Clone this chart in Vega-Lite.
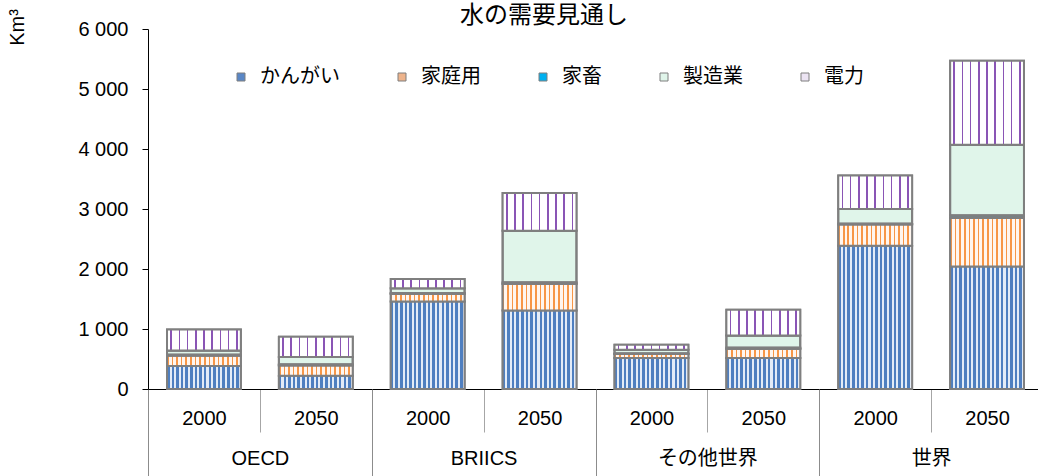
{
  "$schema": "https://vega.github.io/schema/vega-lite/v6.json",
  "autosize": {"type": "none"},
  "padding": {"left": 148, "top": 29, "right": 0, "bottom": 87},
  "width": 895,
  "height": 360,
  "background": "#ffffff",
  "title": {
    "text": "水の需要見通し",
    "anchor": "start",
    "frame": "group",
    "dx": 312,
    "dy": 38,
    "offset": 0,
    "baseline": "alphabetic",
    "font": "Noto Sans CJK JP",
    "fontSize": 24,
    "fontWeight": "normal",
    "color": "#000000"
  },
  "config": {
    "view": {"stroke": null},
    "font": "Liberation Sans, Noto Sans CJK JP",
    "axis": {
      "labelFont": "Liberation Sans, Noto Sans CJK JP",
      "titleFont": "Liberation Sans, Noto Sans CJK JP",
      "labelColor": "#000000",
      "titleColor": "#000000",
      "grid": false
    }
  },
  "datasets": {
    "water": [
      {"bar": "OECD 2000", "use": "かんがい", "k": 1, "value": 383},
      {"bar": "OECD 2000", "use": "家庭用", "k": 2, "value": 173},
      {"bar": "OECD 2000", "use": "家畜", "k": 3, "value": 15},
      {"bar": "OECD 2000", "use": "製造業", "k": 4, "value": 70},
      {"bar": "OECD 2000", "use": "電力", "k": 5, "value": 349},
      {"bar": "OECD 2050", "use": "かんがい", "k": 1, "value": 219},
      {"bar": "OECD 2050", "use": "家庭用", "k": 2, "value": 174},
      {"bar": "OECD 2050", "use": "家畜", "k": 3, "value": 15},
      {"bar": "OECD 2050", "use": "製造業", "k": 4, "value": 126},
      {"bar": "OECD 2050", "use": "電力", "k": 5, "value": 338},
      {"bar": "BRIICS 2000", "use": "かんがい", "k": 1, "value": 1460},
      {"bar": "BRIICS 2000", "use": "家庭用", "k": 2, "value": 123},
      {"bar": "BRIICS 2000", "use": "家畜", "k": 3, "value": 15},
      {"bar": "BRIICS 2000", "use": "製造業", "k": 4, "value": 80},
      {"bar": "BRIICS 2000", "use": "電力", "k": 5, "value": 155},
      {"bar": "BRIICS 2050", "use": "かんがい", "k": 1, "value": 1310},
      {"bar": "BRIICS 2050", "use": "家庭用", "k": 2, "value": 440},
      {"bar": "BRIICS 2050", "use": "家畜", "k": 3, "value": 25},
      {"bar": "BRIICS 2050", "use": "製造業", "k": 4, "value": 863},
      {"bar": "BRIICS 2050", "use": "電力", "k": 5, "value": 629},
      {"bar": "その他世界 2000", "use": "かんがい", "k": 1, "value": 516},
      {"bar": "その他世界 2000", "use": "家庭用", "k": 2, "value": 67},
      {"bar": "その他世界 2000", "use": "家畜", "k": 3, "value": 10},
      {"bar": "その他世界 2000", "use": "製造業", "k": 4, "value": 62},
      {"bar": "その他世界 2000", "use": "電力", "k": 5, "value": 83},
      {"bar": "その他世界 2050", "use": "かんがい", "k": 1, "value": 517},
      {"bar": "その他世界 2050", "use": "家庭用", "k": 2, "value": 150},
      {"bar": "その他世界 2050", "use": "家畜", "k": 3, "value": 20},
      {"bar": "その他世界 2050", "use": "製造業", "k": 4, "value": 206},
      {"bar": "その他世界 2050", "use": "電力", "k": 5, "value": 429},
      {"bar": "世界 2000", "use": "かんがい", "k": 1, "value": 2388},
      {"bar": "世界 2000", "use": "家庭用", "k": 2, "value": 352},
      {"bar": "世界 2000", "use": "家畜", "k": 3, "value": 15},
      {"bar": "世界 2000", "use": "製造業", "k": 4, "value": 245},
      {"bar": "世界 2000", "use": "電力", "k": 5, "value": 560},
      {"bar": "世界 2050", "use": "かんがい", "k": 1, "value": 2043},
      {"bar": "世界 2050", "use": "家庭用", "k": 2, "value": 807},
      {"bar": "世界 2050", "use": "家畜", "k": 3, "value": 43},
      {"bar": "世界 2050", "use": "製造業", "k": 4, "value": 1179},
      {"bar": "世界 2050", "use": "電力", "k": 5, "value": 1400}
    ],
    "regions": [
      {"region": "OECD"},
      {"region": "BRIICS"},
      {"region": "その他世界"},
      {"region": "世界"}
    ]
  },
  "layer": [
    {
      "data": {"name": "water"},
      "layer": [
        {
          "mark": {"type": "bar", "width": {"band": 0.66}, "stroke": "#7f7f7f", "strokeWidth": 2},
          "encoding": {
            "x": {
              "field": "bar",
              "type": "nominal",
              "sort": null,
              "scale": {"paddingInner": 0, "paddingOuter": 0},
              "axis": {
                "orient": "bottom",
                "title": null,
                "labelExpr": "split(datum.label, ' ')[1]",
                "labelAngle": 0,
                "labelFontSize": 20,
                "labelPadding": -24,
                "tickBand": "extent",
                "tickSize": 43,
                "tickColor": "#a6a6a6",
                "tickWidth": 1,
                "domainColor": "#000000",
                "domainWidth": 1
              }
            },
            "y": {
              "field": "value",
              "type": "quantitative",
              "stack": "zero",
              "scale": {"domain": [0, 6000], "nice": false},
              "axis": {
                "title": "Km³",
                "titleAngle": -90,
                "titleX": -131,
                "titleY": -2,
                "titleAlign": "center",
                "titleBaseline": "middle",
                "titleFontSize": 20,
                "titleFontWeight": "normal",
                "values": [0, 1000, 2000, 3000, 4000, 5000, 6000],
                "labelExpr": "replace(format(datum.value, ','), ',', ' ')",
                "labelFontSize": 20,
                "labelPadding": 14,
                "tickSize": 6,
                "tickColor": "#000000",
                "domainColor": "#000000",
                "domainWidth": 1
              }
            },
            "fill": {
              "field": "use",
              "type": "nominal",
              "sort": ["かんがい", "家庭用", "家畜", "製造業", "電力"],
              "scale": {
                "domain": ["かんがい", "家庭用", "家畜", "製造業", "電力"],
                "range": ["#5a87c6", "#eeb48c", "#00b0f0", "#e0f5ea", "#ece4f3"]
              },
              "legend": {
                "orient": "none",
                "legendX": 83,
                "legendY": 38,
                "direction": "horizontal",
                "title": null,
                "symbolType": "square",
                "symbolSize": 64,
                "labelFont": "Noto Sans CJK JP",
                "labelFontSize": 20,
                "labelColor": "#000000",
                "labelOffset": 9,
                "labelLimit": 0,
                "columnPadding": 52,
                "symbolStrokeColor": "#7f7f7f",
                "symbolStrokeWidth": 1,
                "encode": {
                  "symbols": {
                    "update": {
                      "stroke": {"value": "#7f7f7f"},
                      "strokeWidth": {"value": 1}
                    }
                  }
                }
              }
            },
            "order": {"field": "k", "type": "quantitative"}
          }
        },
        {
          "mark": {"type": "bar", "width": {"band": 0.66}, "stroke": "#7f7f7f", "strokeWidth": 2},
          "encoding": {
            "x": {"field": "bar", "type": "nominal", "sort": null},
            "y": {"field": "value", "type": "quantitative", "stack": "zero"},
            "detail": {"field": "use", "type": "nominal"},
            "order": {"field": "k", "type": "quantitative"},
            "fill": {
              "condition": [
                {
                  "test": "datum.use === 'かんがい'",
                  "value": {
                    "gradient": "linear", "x1": 0, "y1": 0, "x2": 1, "y2": 0,
                    "stops": [
                      {"offset": 0, "color": "#4f7fc0"}, {"offset": 0.0344, "color": "#4f7fc0"}, {"offset": 0.0344, "color": "#e4ecf7"}, {"offset": 0.0625, "color": "#e4ecf7"},
                      {"offset": 0.0625, "color": "#4f7fc0"}, {"offset": 0.0969, "color": "#4f7fc0"}, {"offset": 0.0969, "color": "#e4ecf7"}, {"offset": 0.125, "color": "#e4ecf7"},
                      {"offset": 0.125, "color": "#4f7fc0"}, {"offset": 0.1594, "color": "#4f7fc0"}, {"offset": 0.1594, "color": "#e4ecf7"}, {"offset": 0.1875, "color": "#e4ecf7"},
                      {"offset": 0.1875, "color": "#4f7fc0"}, {"offset": 0.2219, "color": "#4f7fc0"}, {"offset": 0.2219, "color": "#e4ecf7"}, {"offset": 0.25, "color": "#e4ecf7"},
                      {"offset": 0.25, "color": "#4f7fc0"}, {"offset": 0.2844, "color": "#4f7fc0"}, {"offset": 0.2844, "color": "#e4ecf7"}, {"offset": 0.3125, "color": "#e4ecf7"},
                      {"offset": 0.3125, "color": "#4f7fc0"}, {"offset": 0.3469, "color": "#4f7fc0"}, {"offset": 0.3469, "color": "#e4ecf7"}, {"offset": 0.375, "color": "#e4ecf7"},
                      {"offset": 0.375, "color": "#4f7fc0"}, {"offset": 0.4094, "color": "#4f7fc0"}, {"offset": 0.4094, "color": "#e4ecf7"}, {"offset": 0.4375, "color": "#e4ecf7"},
                      {"offset": 0.4375, "color": "#4f7fc0"}, {"offset": 0.4719, "color": "#4f7fc0"}, {"offset": 0.4719, "color": "#e4ecf7"}, {"offset": 0.5, "color": "#e4ecf7"},
                      {"offset": 0.5, "color": "#4f7fc0"}, {"offset": 0.5344, "color": "#4f7fc0"}, {"offset": 0.5344, "color": "#e4ecf7"}, {"offset": 0.5625, "color": "#e4ecf7"},
                      {"offset": 0.5625, "color": "#4f7fc0"}, {"offset": 0.5969, "color": "#4f7fc0"}, {"offset": 0.5969, "color": "#e4ecf7"}, {"offset": 0.625, "color": "#e4ecf7"},
                      {"offset": 0.625, "color": "#4f7fc0"}, {"offset": 0.6594, "color": "#4f7fc0"}, {"offset": 0.6594, "color": "#e4ecf7"}, {"offset": 0.6875, "color": "#e4ecf7"},
                      {"offset": 0.6875, "color": "#4f7fc0"}, {"offset": 0.7219, "color": "#4f7fc0"}, {"offset": 0.7219, "color": "#e4ecf7"}, {"offset": 0.75, "color": "#e4ecf7"},
                      {"offset": 0.75, "color": "#4f7fc0"}, {"offset": 0.7844, "color": "#4f7fc0"}, {"offset": 0.7844, "color": "#e4ecf7"}, {"offset": 0.8125, "color": "#e4ecf7"},
                      {"offset": 0.8125, "color": "#4f7fc0"}, {"offset": 0.8469, "color": "#4f7fc0"}, {"offset": 0.8469, "color": "#e4ecf7"}, {"offset": 0.875, "color": "#e4ecf7"},
                      {"offset": 0.875, "color": "#4f7fc0"}, {"offset": 0.9094, "color": "#4f7fc0"}, {"offset": 0.9094, "color": "#e4ecf7"}, {"offset": 0.9375, "color": "#e4ecf7"},
                      {"offset": 0.9375, "color": "#4f7fc0"}, {"offset": 0.9719, "color": "#4f7fc0"}, {"offset": 0.9719, "color": "#e4ecf7"}, {"offset": 1, "color": "#e4ecf7"}
                    ]
                  }
                },
                {
                  "test": "datum.use === '家庭用'",
                  "value": {
                    "gradient": "linear", "x1": 0, "y1": 0, "x2": 1, "y2": 0,
                    "stops": [
                      {"offset": 0, "color": "#f79646"}, {"offset": 0.0219, "color": "#f79646"}, {"offset": 0.0219, "color": "#fff6ef"}, {"offset": 0.0625, "color": "#fff6ef"},
                      {"offset": 0.0625, "color": "#f79646"}, {"offset": 0.0844, "color": "#f79646"}, {"offset": 0.0844, "color": "#fff6ef"}, {"offset": 0.125, "color": "#fff6ef"},
                      {"offset": 0.125, "color": "#f79646"}, {"offset": 0.1469, "color": "#f79646"}, {"offset": 0.1469, "color": "#fff6ef"}, {"offset": 0.1875, "color": "#fff6ef"},
                      {"offset": 0.1875, "color": "#f79646"}, {"offset": 0.2094, "color": "#f79646"}, {"offset": 0.2094, "color": "#fff6ef"}, {"offset": 0.25, "color": "#fff6ef"},
                      {"offset": 0.25, "color": "#f79646"}, {"offset": 0.2719, "color": "#f79646"}, {"offset": 0.2719, "color": "#fff6ef"}, {"offset": 0.3125, "color": "#fff6ef"},
                      {"offset": 0.3125, "color": "#f79646"}, {"offset": 0.3344, "color": "#f79646"}, {"offset": 0.3344, "color": "#fff6ef"}, {"offset": 0.375, "color": "#fff6ef"},
                      {"offset": 0.375, "color": "#f79646"}, {"offset": 0.3969, "color": "#f79646"}, {"offset": 0.3969, "color": "#fff6ef"}, {"offset": 0.4375, "color": "#fff6ef"},
                      {"offset": 0.4375, "color": "#f79646"}, {"offset": 0.4594, "color": "#f79646"}, {"offset": 0.4594, "color": "#fff6ef"}, {"offset": 0.5, "color": "#fff6ef"},
                      {"offset": 0.5, "color": "#f79646"}, {"offset": 0.5219, "color": "#f79646"}, {"offset": 0.5219, "color": "#fff6ef"}, {"offset": 0.5625, "color": "#fff6ef"},
                      {"offset": 0.5625, "color": "#f79646"}, {"offset": 0.5844, "color": "#f79646"}, {"offset": 0.5844, "color": "#fff6ef"}, {"offset": 0.625, "color": "#fff6ef"},
                      {"offset": 0.625, "color": "#f79646"}, {"offset": 0.6469, "color": "#f79646"}, {"offset": 0.6469, "color": "#fff6ef"}, {"offset": 0.6875, "color": "#fff6ef"},
                      {"offset": 0.6875, "color": "#f79646"}, {"offset": 0.7094, "color": "#f79646"}, {"offset": 0.7094, "color": "#fff6ef"}, {"offset": 0.75, "color": "#fff6ef"},
                      {"offset": 0.75, "color": "#f79646"}, {"offset": 0.7719, "color": "#f79646"}, {"offset": 0.7719, "color": "#fff6ef"}, {"offset": 0.8125, "color": "#fff6ef"},
                      {"offset": 0.8125, "color": "#f79646"}, {"offset": 0.8344, "color": "#f79646"}, {"offset": 0.8344, "color": "#fff6ef"}, {"offset": 0.875, "color": "#fff6ef"},
                      {"offset": 0.875, "color": "#f79646"}, {"offset": 0.8969, "color": "#f79646"}, {"offset": 0.8969, "color": "#fff6ef"}, {"offset": 0.9375, "color": "#fff6ef"},
                      {"offset": 0.9375, "color": "#f79646"}, {"offset": 0.9594, "color": "#f79646"}, {"offset": 0.9594, "color": "#fff6ef"}, {"offset": 1, "color": "#fff6ef"}
                    ]
                  }
                },
                {
                  "test": "datum.use === '電力'",
                  "value": {
                    "gradient": "linear", "x1": 0, "y1": 0, "x2": 1, "y2": 0,
                    "stops": [
                      {"offset": 0, "color": "#ffffff"},
                      {"offset": 0.0444, "color": "#ffffff"}, {"offset": 0.0444, "color": "#8a55b5"}, {"offset": 0.0667, "color": "#8a55b5"}, {"offset": 0.0667, "color": "#ffffff"},
                      {"offset": 0.1555, "color": "#ffffff"}, {"offset": 0.1555, "color": "#8a55b5"}, {"offset": 0.1778, "color": "#8a55b5"}, {"offset": 0.1778, "color": "#ffffff"},
                      {"offset": 0.2666, "color": "#ffffff"}, {"offset": 0.2666, "color": "#8a55b5"}, {"offset": 0.2889, "color": "#8a55b5"}, {"offset": 0.2889, "color": "#ffffff"},
                      {"offset": 0.3777, "color": "#ffffff"}, {"offset": 0.3777, "color": "#8a55b5"}, {"offset": 0.4, "color": "#8a55b5"}, {"offset": 0.4, "color": "#ffffff"},
                      {"offset": 0.4888, "color": "#ffffff"}, {"offset": 0.4888, "color": "#8a55b5"}, {"offset": 0.5111, "color": "#8a55b5"}, {"offset": 0.5111, "color": "#ffffff"},
                      {"offset": 0.6, "color": "#ffffff"}, {"offset": 0.6, "color": "#8a55b5"}, {"offset": 0.6223, "color": "#8a55b5"}, {"offset": 0.6223, "color": "#ffffff"},
                      {"offset": 0.7111, "color": "#ffffff"}, {"offset": 0.7111, "color": "#8a55b5"}, {"offset": 0.7334, "color": "#8a55b5"}, {"offset": 0.7334, "color": "#ffffff"},
                      {"offset": 0.8222, "color": "#ffffff"}, {"offset": 0.8222, "color": "#8a55b5"}, {"offset": 0.8445, "color": "#8a55b5"}, {"offset": 0.8445, "color": "#ffffff"},
                      {"offset": 0.9333, "color": "#ffffff"}, {"offset": 0.9333, "color": "#8a55b5"}, {"offset": 0.9556, "color": "#8a55b5"}, {"offset": 0.9556, "color": "#ffffff"},
                      {"offset": 1, "color": "#ffffff"}
                    ]
                  }
                }
              ],
              "value": "transparent"
            }
          }
        }
      ]
    },
    {
      "data": {"name": "regions"},
      "mark": {"type": "point", "opacity": 0},
      "encoding": {
        "x": {
          "field": "region",
          "type": "nominal",
          "sort": null,
          "scale": {"paddingInner": 0, "paddingOuter": 0},
          "axis": {
            "orient": "bottom",
            "title": null,
            "domain": false,
            "labelAngle": 0,
            "labelFont": "Liberation Sans, Noto Sans CJK JP",
            "labelFontSize": 20,
            "labelPadding": -28,
            "tickBand": "extent",
            "tickSize": 87,
            "tickColor": "#8c8c8c",
            "tickWidth": 1
          }
        }
      }
    }
  ],
  "resolve": {"scale": {"x": "independent"}, "axis": {"x": "independent"}}
}
